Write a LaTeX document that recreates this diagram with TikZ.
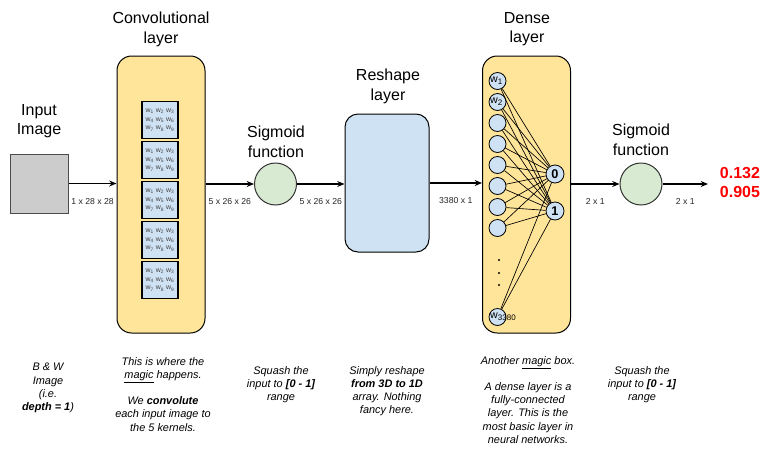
\documentclass[tikz,border=0pt]{standalone}
\usepackage{fontspec}
\setmainfont{Liberation Sans}
\usetikzlibrary{arrows.meta}

\definecolor{layeryellow}{HTML}{FFE599}
\definecolor{kernelblue}{HTML}{CFE2F3}
\definecolor{sigmoidgreen}{HTML}{D9EAD3}
\definecolor{imagegray}{HTML}{CCCCCC}
\definecolor{weightgray}{HTML}{434343}

\newcommand{\wsub}[1]{w\textsubscript{#1}}
\newcommand{\kernelrows}{\wsub{1} \wsub{2} \wsub{3}\\\wsub{4} \wsub{5} \wsub{6}\\\wsub{7} \wsub{8} \wsub{9}}

\begin{document}
\begin{tikzpicture}[x=0.75pt, y=-0.75pt,
  layerbox/.style={draw, line width=0.75pt, fill=layeryellow, rounded corners=11pt, minimum width=66pt, minimum height=207.75pt, inner sep=0pt},
  reshapebox/.style={draw, line width=0.75pt, fill=kernelblue, rounded corners=9.75pt, minimum width=63pt, minimum height=103.5pt, inner sep=0pt},
  imagebox/.style={draw=black!70, line width=0.75pt, fill=imagegray, minimum width=43.5pt, minimum height=44.25pt, inner sep=0pt},
  kernel/.style={draw, line width=1pt, fill=kernelblue, minimum width=27pt, minimum height=27.75pt, inner sep=0pt, align=center, text=weightgray, font=\fontsize{5.2}{6.6}\selectfont},
  sigmoid/.style={circle, draw=black!80, line width=0.75pt, fill=sigmoidgreen, minimum size=31.5pt, inner sep=0pt},
  incircle/.style={circle, draw, line width=0.6pt, fill=kernelblue, minimum size=12.75pt, inner sep=0pt},
  outcircle/.style={circle, draw, line width=0.6pt, fill=kernelblue, minimum size=13.5pt, inner sep=0pt, font=\fontsize{9.5}{10}\selectfont\bfseries},
  wlabel/.style={anchor=west, inner sep=0pt, xshift=1pt, font=\fontsize{8}{9}\selectfont},
  title/.style={anchor=north, align=center, inner sep=0pt, font=\fontsize{12}{14.6}\selectfont},
  note/.style={anchor=north, align=center, inner sep=0pt, font=\fontsize{8.2}{9.9}\selectfont\itshape},
  dimlabel/.style={midway, below=10.5pt, inner sep=0pt, text=black!85, font=\fontsize{6.5}{7.7}\selectfont},
  result/.style={align=center, inner sep=0pt, text=red, font=\fontsize{12}{14.4}\selectfont\bfseries},
  flow/.style={line width=0.9pt, -{Stealth[length=5.5pt, width=4.5pt]}},
  link/.style={line width=0.5pt}]
\useasboundingbox (0,0) rectangle (770,450);

% input image
\node[imagebox] (img) at (39,183.5) {};
\node[title] (imgtitle) at (39,104) {Input\\Image};
\node[note] (imgnote) at (48,363) {B \& W\\Image\\(i.e.\\\textbf{depth = 1})};

% convolutional layer
\node[layerbox] (conv) at (161,194.5) {};
\node[title] (convtitle) at (161,12) {Convolutional\\layer};
\foreach \i in {1,...,5}
  \node[kernel] (k\i) at (160,{80+40*\i}) {\kernelrows};
\node[note] (convnote) at (163,357) {This is where the\\\underline{magic} happens.\\[9.9pt]We \textbf{convolute}\\each input image to\\the 5 kernels.};

% sigmoid
\node[sigmoid] (sig1) at (275.5,184) {};
\node[title] (sig1title) at (276,126) {Sigmoid\\function};
\node[note] (sig1note) at (281,366) {Squash the\\input to \textbf{[0 - 1]}\\range};

% reshape layer
\node[reshapebox] (reshape) at (387,183) {};
\node[title] (reshapetitle) at (388,69) {Reshape\\layer};
\node[note] (reshapenote) at (387,366) {Simply reshape\\\textbf{from 3D to 1D}\\array. Nothing\\fancy here.};

% dense layer
\node[layerbox] (dense) at (526.5,194.5) {};
\node[title] (densetitle) at (527,12) {Dense\\layer};
\foreach \i in {1,...,8}
  \node[incircle] (n\i) at (497.5,{60+21*\i}) {};
\node[incircle] (n9) at (497.5,317) {};
\node[wlabel] (w1) at (n1.west) {\wsub{1}};
\node[wlabel] (w2) at (n2.west) {\wsub{2}};
\node[wlabel] (w3380) at (n9.west) {\wsub{3380}};
\foreach \y in {260,273,285}
  \fill (499,\y) circle (0.8pt);
\node[outcircle] (o0) at (555,174) {0};
\node[outcircle] (o1) at (555,211) {1};
\foreach \i in {1,...,9} {
  \draw[link] (n\i) -- (o0);
  \draw[link] (n\i) -- (o1);
}
\node[note] (densenote) at (528,356) {Another \underline{magic} box.\\[9.9pt]A dense layer is a\\fully-connected\\layer. This is the\\most basic layer in\\neural networks.};

% second sigmoid and output
\node[sigmoid] (sig2) at (641,184) {};
\node[title] (sig2title) at (641,124) {Sigmoid\\function};
\node[note] (sig2note) at (642,366) {Squash the\\input to \textbf{[0 - 1]}\\range};
\node[result] (out) at (740,182.5) {0.132\\0.905};
\coordinate (outin) at (708,184);

\draw[flow] (img.east) -- (img.east -| conv.west) node[dimlabel] (d1) {1 x 28 x 28};
\draw[flow] (conv.east |- sig1) -- (sig1) node[dimlabel] (d2) {5 x 26 x 26};
\draw[flow] (sig1) -- (sig1 -| reshape.west) node[dimlabel] (d3) {5 x 26 x 26};
\draw[flow] (reshape.east) -- (reshape.east -| dense.west) node[dimlabel] (d4) {3380 x 1};
\draw[flow] (dense.east |- sig2) -- (sig2) node[dimlabel] (d5) {2 x 1};
\draw[flow] (sig2) -- (outin) node[dimlabel] (d6) {2 x 1};
\end{tikzpicture}
\end{document}
